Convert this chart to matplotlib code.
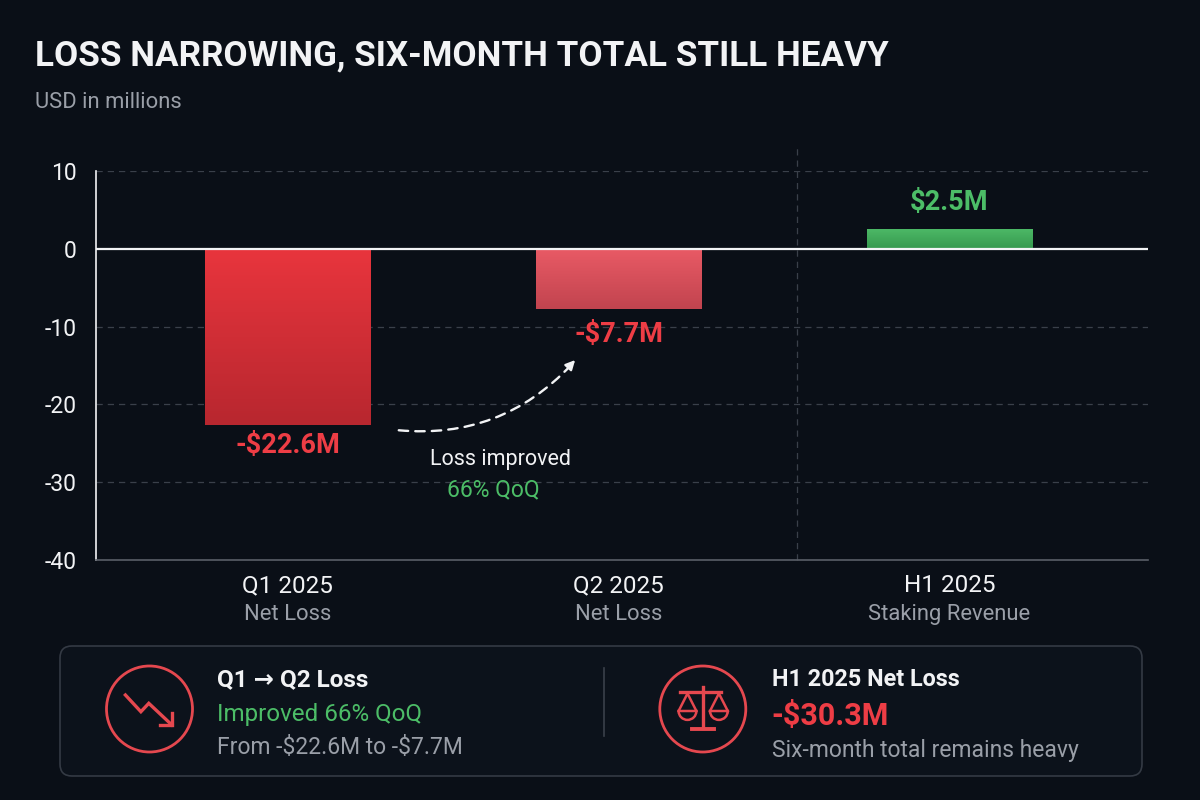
import numpy as np
import matplotlib
matplotlib.use('Agg')
import matplotlib.pyplot as plt
from matplotlib.patches import FancyBboxPatch, FancyArrowPatch, Circle, Wedge
from matplotlib import font_manager

# Data
categories = ['Q1 2025', 'Q2 2025', 'H1 2025']
subtitles = ['Net Loss', 'Net Loss', 'Staking Revenue']
values = [-22.6, -7.7, 2.5]
value_labels = ['-$22.6M', '-$7.7M', '$2.5M']
y_ticks = [10, 0, -10, -20, -30, -40]

BG = '#0a0f17'
RED = '#ee3d45'
GREEN = '#4cbd67'
WHITE = '#f2f3f5'
GRAY = '#9a9fa8'
GRID = '#3a404a'
ICON = '#e5484f'

names = {f.name for f in font_manager.fontManager.ttflist}
BASE = 'Roboto' if 'Roboto' in names else 'DejaVu Sans'
plt.rcParams['font.family'] = [BASE, 'DejaVu Sans']


def esc(s):
    return s.replace('$', r'\$')


fig = plt.figure(figsize=(12, 8), dpi=100, facecolor=BG)

# main chart axes (pixel layout: x 96..1148, y 171..560)
ax = fig.add_axes([96 / 1200, 1 - 560 / 800, (1148 - 96) / 1200, (560 - 171) / 800])
ax.set_facecolor('none')
ax.set_xlim(-0.58, 2.6)
ax.set_ylim(-40, 10)

for y in [10, -10, -20, -30]:
    ax.axhline(y, color=GRID, lw=0.9, ls=(0, (5, 4)), zorder=1)
ax.axhline(0, color=WHITE, lw=1.6, zorder=4)
ax.plot([1.54, 1.54], [-40, 13.4], color=GRID, lw=0.9, ls=(0, (5, 4)), clip_on=False, zorder=1)

x = np.arange(len(categories))
grads = [('#b8272f', '#e8353d'), ('#c2444f', '#e85a65'), ('#36984e', '#4cb866')]
bars = ax.bar(x, values, width=0.5, color=[g[1] for g in grads], zorder=2)
for b, (c_lo, c_hi) in zip(bars, grads):
    bx, by = b.get_x(), b.get_y()
    bw, bh = b.get_width(), b.get_height()
    cmap = matplotlib.colors.LinearSegmentedColormap.from_list('g', [c_lo, c_hi])
    grad = np.linspace(0, 1, 100).reshape(-1, 1)
    y0, y1 = min(by, by + bh), max(by, by + bh)
    im = ax.imshow(grad, cmap=cmap, aspect='auto', origin='lower',
                   extent=[bx, bx + bw, y0, y1], zorder=3)
    im.set_clip_path(b)

# value labels
label_y = [-25.3, -11.0, 5.9]
label_colors = [RED, RED, GREEN]
for xi, ly, lab, col in zip(x, label_y, value_labels, label_colors):
    ax.text(xi, ly, esc(lab), ha='center', va='center', color=col,
            fontsize=19.5, fontweight='bold', zorder=5)

ax.set_yticks(y_ticks)
ax.set_yticklabels([str(t) for t in y_ticks], color=WHITE, fontsize=16.5)
ax.set_xticks([])
ax.tick_params(axis='y', length=0, pad=14)
for s in ['top', 'right']:
    ax.spines[s].set_visible(False)
ax.spines['left'].set_color(WHITE)
ax.spines['left'].set_linewidth(1.2)
ax.spines['bottom'].set_color('#5a5f68')
ax.spines['bottom'].set_linewidth(1.2)

for xi, cat, sub in zip(x, categories, subtitles):
    ax.text(xi, -43.3, cat, ha='center', va='center', color=WHITE, fontsize=17.5, clip_on=False)
    ax.text(xi, -47.0, sub, ha='center', va='center', color=GRAY, fontsize=15.8, clip_on=False)

# overlay axes in pixel coordinates
ov = fig.add_axes([0, 0, 1, 1])
ov.set_xlim(0, 1200)
ov.set_ylim(800, 0)
ov.axis('off')
ov.set_facecolor('none')

ov.text(35, 56, 'LOSS NARROWING, SIX-MONTH TOTAL STILL HEAVY', ha='left', va='center',
        color=WHITE, fontsize=25.2, fontweight='bold')
ov.text(35, 103, 'USD in millions', ha='left', va='center', color=GRAY, fontsize=15.8)

# QoQ arrow
ov.add_patch(FancyArrowPatch((396, 430), (573, 363), connectionstyle='arc3,rad=0.25',
                             arrowstyle='-', color=WHITE, lw=1.7, ls=(0, (4, 3))))
ov.add_patch(FancyArrowPatch((566, 370), (577, 358), arrowstyle='-|>', mutation_scale=14,
                             color=WHITE, lw=1.6))
ov.text(500, 459, 'Loss improved', ha='center', va='center', color=WHITE, fontsize=15.5)
ov.text(493, 490, '66% QoQ', ha='center', va='center', color=GREEN, fontsize=16.5)

# bottom panel
ov.add_patch(FancyBboxPatch((60, 646), 1082, 130, boxstyle='round,pad=0,rounding_size=12',
                            facecolor='#0c121b', edgecolor='#343a44', lw=1.2))
ov.plot([604, 604], [668, 736], color='#3a404a', lw=1.2)

# icon 1: trending down
ov.add_patch(Circle((149.5, 709), 43, fill=False, edgecolor=ICON, lw=2))
ov.plot([125.4, 140.9, 148.8, 171.9], [695, 711.7, 703.3, 725], color=ICON, lw=2.4,
        solid_joinstyle='miter')
ov.plot([159.9, 171.9, 171.9], [725, 725, 713.3], color=ICON, lw=2.4, solid_joinstyle='miter')

# icon 2: scales
cx, cy = 702.8, 709
ov.add_patch(Circle((cx, cy), 43, fill=False, edgecolor=ICON, lw=2))
ov.plot([cx, cx], [687, 728], color=ICON, lw=2.4)
ov.plot([680.4, 721.4], [692, 692], color=ICON, lw=2.4)
ov.plot([692, 713.6], [728.5, 728.5], color=ICON, lw=2.8)
for px in [687.5, 718.9]:
    ov.plot([px - 8.9, px, px + 8.9], [711, 693.5, 711], color=ICON, lw=1.8)
    ov.add_patch(Wedge((px, 711), 8.9, 0, 180, facecolor='none', edgecolor=ICON, lw=1.8))

ov.text(217, 680, 'Q1 \u2192 Q2 Loss', ha='left', va='center', color=WHITE, fontsize=17.5,
        fontweight='bold')
ov.text(217, 714, 'Improved 66% QoQ', ha='left', va='center', color=GREEN, fontsize=17.4)
ov.text(217, 747, esc('From -$22.6M to -$7.7M'), ha='left', va='center', color=GRAY,
        fontsize=16.5)

ov.text(772, 679, 'H1 2025 Net Loss', ha='left', va='center', color=WHITE, fontsize=16.8,
        fontweight='bold')
ov.text(771, 716, esc('-$30.3M'), ha='left', va='center', color=RED, fontsize=22,
        fontweight='bold')
ov.text(772, 750, 'Six-month total remains heavy', ha='left', va='center', color=GRAY,
        fontsize=16.5)

fig.savefig('out.png', dpi=100, facecolor=BG)
